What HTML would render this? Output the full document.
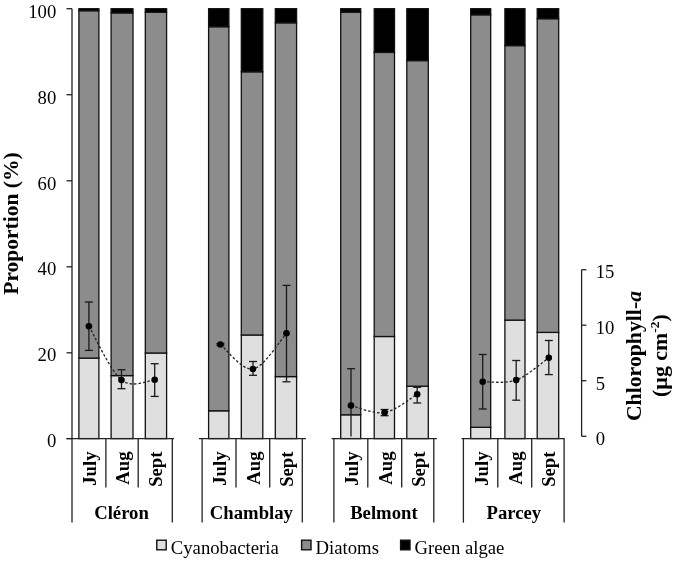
<!DOCTYPE html><html><head><meta charset="utf-8"><style>html,body{margin:0;padding:0;background:#fff;}svg{display:block;will-change:transform;}text{font-family:"Liberation Serif",serif;fill:#000;}</style></head><body>
<svg width="675" height="561" viewBox="0 0 675 561">
<rect x="78.9" y="358.1" width="20.00" height="80.50" fill="#dfdfdf" stroke="#111" stroke-width="1.3"/>
<rect x="78.9" y="10.700000000000001" width="20.00" height="347.40" fill="#8c8c8c" stroke="#111" stroke-width="1.3"/>
<rect x="78.9" y="8.7" width="20.00" height="2.00" fill="#000" stroke="#111" stroke-width="1.3"/>
<rect x="111.1" y="375.6" width="21.90" height="63.00" fill="#dfdfdf" stroke="#111" stroke-width="1.3"/>
<rect x="111.1" y="12.9" width="21.90" height="362.70" fill="#8c8c8c" stroke="#111" stroke-width="1.3"/>
<rect x="111.1" y="8.7" width="21.90" height="4.20" fill="#000" stroke="#111" stroke-width="1.3"/>
<rect x="145.3" y="353" width="21.30" height="85.60" fill="#dfdfdf" stroke="#111" stroke-width="1.3"/>
<rect x="145.3" y="12.200000000000001" width="21.30" height="340.80" fill="#8c8c8c" stroke="#111" stroke-width="1.3"/>
<rect x="145.3" y="8.7" width="21.30" height="3.50" fill="#000" stroke="#111" stroke-width="1.3"/>
<rect x="208.6" y="410.8" width="20.30" height="27.80" fill="#dfdfdf" stroke="#111" stroke-width="1.3"/>
<rect x="208.6" y="26.7" width="20.30" height="384.10" fill="#8c8c8c" stroke="#111" stroke-width="1.3"/>
<rect x="208.6" y="8.7" width="20.30" height="18.00" fill="#000" stroke="#111" stroke-width="1.3"/>
<rect x="241.3" y="335" width="21.50" height="103.60" fill="#dfdfdf" stroke="#111" stroke-width="1.3"/>
<rect x="241.3" y="71.8" width="21.50" height="263.20" fill="#8c8c8c" stroke="#111" stroke-width="1.3"/>
<rect x="241.3" y="8.7" width="21.50" height="63.10" fill="#000" stroke="#111" stroke-width="1.3"/>
<rect x="275.3" y="376.6" width="21.30" height="62.00" fill="#dfdfdf" stroke="#111" stroke-width="1.3"/>
<rect x="275.3" y="22.8" width="21.30" height="353.80" fill="#8c8c8c" stroke="#111" stroke-width="1.3"/>
<rect x="275.3" y="8.7" width="21.30" height="14.10" fill="#000" stroke="#111" stroke-width="1.3"/>
<rect x="340.7" y="414.8" width="20.00" height="23.80" fill="#dfdfdf" stroke="#111" stroke-width="1.3"/>
<rect x="340.7" y="12.100000000000001" width="20.00" height="402.70" fill="#8c8c8c" stroke="#111" stroke-width="1.3"/>
<rect x="340.7" y="8.7" width="20.00" height="3.40" fill="#000" stroke="#111" stroke-width="1.3"/>
<rect x="374.2" y="336.5" width="20.30" height="102.10" fill="#dfdfdf" stroke="#111" stroke-width="1.3"/>
<rect x="374.2" y="52.4" width="20.30" height="284.10" fill="#8c8c8c" stroke="#111" stroke-width="1.3"/>
<rect x="374.2" y="8.7" width="20.30" height="43.70" fill="#000" stroke="#111" stroke-width="1.3"/>
<rect x="406.8" y="386.2" width="21.50" height="52.40" fill="#dfdfdf" stroke="#111" stroke-width="1.3"/>
<rect x="406.8" y="60.599999999999994" width="21.50" height="325.60" fill="#8c8c8c" stroke="#111" stroke-width="1.3"/>
<rect x="406.8" y="8.7" width="21.50" height="51.90" fill="#000" stroke="#111" stroke-width="1.3"/>
<rect x="470.7" y="427.3" width="20.00" height="11.30" fill="#dfdfdf" stroke="#111" stroke-width="1.3"/>
<rect x="470.7" y="14.8" width="20.00" height="412.50" fill="#8c8c8c" stroke="#111" stroke-width="1.3"/>
<rect x="470.7" y="8.7" width="20.00" height="6.10" fill="#000" stroke="#111" stroke-width="1.3"/>
<rect x="504.9" y="320.1" width="20.10" height="118.50" fill="#dfdfdf" stroke="#111" stroke-width="1.3"/>
<rect x="504.9" y="45.599999999999994" width="20.10" height="274.50" fill="#8c8c8c" stroke="#111" stroke-width="1.3"/>
<rect x="504.9" y="8.7" width="20.10" height="36.90" fill="#000" stroke="#111" stroke-width="1.3"/>
<rect x="537.2" y="332.4" width="21.50" height="106.20" fill="#dfdfdf" stroke="#111" stroke-width="1.3"/>
<rect x="537.2" y="18.7" width="21.50" height="313.70" fill="#8c8c8c" stroke="#111" stroke-width="1.3"/>
<rect x="537.2" y="8.7" width="21.50" height="10.00" fill="#000" stroke="#111" stroke-width="1.3"/>
<g stroke="#222" stroke-width="1.3" fill="none">
<line x1="72" y1="8.7" x2="72" y2="522.6"/>
<line x1="66.5" y1="8.7" x2="72" y2="8.7"/>
<line x1="66.5" y1="94.7" x2="72" y2="94.7"/>
<line x1="66.5" y1="180.8" x2="72" y2="180.8"/>
<line x1="66.5" y1="266.8" x2="72" y2="266.8"/>
<line x1="66.5" y1="352.8" x2="72" y2="352.8"/>
<line x1="66.5" y1="438.6" x2="72" y2="438.6"/>
<line x1="66.5" y1="438.6" x2="174" y2="438.6"/>
<line x1="105.9" y1="438.6" x2="105.9" y2="487.4"/>
<line x1="138.2" y1="438.6" x2="138.2" y2="487.4"/>
<line x1="172.3" y1="438.6" x2="172.3" y2="522.6"/>
<line x1="198.9" y1="438.6" x2="305.9" y2="438.6"/>
<line x1="202.1" y1="438.6" x2="202.1" y2="522.6"/>
<line x1="236" y1="438.6" x2="236" y2="487.4"/>
<line x1="269.7" y1="438.6" x2="269.7" y2="487.4"/>
<line x1="302.3" y1="438.6" x2="302.3" y2="522.6"/>
<line x1="331.6" y1="438.6" x2="436.8" y2="438.6"/>
<line x1="333.9" y1="438.6" x2="333.9" y2="522.6"/>
<line x1="367.8" y1="438.6" x2="367.8" y2="487.4"/>
<line x1="401.7" y1="438.6" x2="401.7" y2="487.4"/>
<line x1="433.8" y1="438.6" x2="433.8" y2="522.6"/>
<line x1="461.6" y1="438.6" x2="564.6" y2="438.6"/>
<line x1="463.4" y1="438.6" x2="463.4" y2="522.6"/>
<line x1="497.8" y1="438.6" x2="497.8" y2="487.4"/>
<line x1="531.7" y1="438.6" x2="531.7" y2="487.4"/>
<line x1="564.1" y1="438.6" x2="564.1" y2="522.6"/>
<line x1="581.6" y1="269.7" x2="581.6" y2="436.3"/>
<line x1="581.6" y1="269.7" x2="586.4" y2="269.7"/>
<line x1="581.6" y1="325.2" x2="586.4" y2="325.2"/>
<line x1="581.6" y1="380.7" x2="586.4" y2="380.7"/>
<line x1="581.6" y1="436.3" x2="586.4" y2="436.3"/>
</g>
<g stroke="#1a1a1a" stroke-width="1.3" fill="none">
<line x1="88.9" y1="302" x2="88.9" y2="350.4"/>
<line x1="84.9" y1="302" x2="92.9" y2="302"/>
<line x1="84.9" y1="350.4" x2="92.9" y2="350.4"/>
<line x1="121.5" y1="369.7" x2="121.5" y2="388.7"/>
<line x1="117.5" y1="369.7" x2="125.5" y2="369.7"/>
<line x1="117.5" y1="388.7" x2="125.5" y2="388.7"/>
<line x1="154.7" y1="363.7" x2="154.7" y2="396.4"/>
<line x1="150.7" y1="363.7" x2="158.7" y2="363.7"/>
<line x1="150.7" y1="396.4" x2="158.7" y2="396.4"/>
<line x1="220.4" y1="343.6" x2="220.4" y2="345.4"/>
<line x1="216.4" y1="343.6" x2="224.4" y2="343.6"/>
<line x1="216.4" y1="345.4" x2="224.4" y2="345.4"/>
<line x1="253" y1="361.5" x2="253" y2="375.3"/>
<line x1="249" y1="361.5" x2="257" y2="361.5"/>
<line x1="249" y1="375.3" x2="257" y2="375.3"/>
<line x1="286.5" y1="285.4" x2="286.5" y2="381.8"/>
<line x1="282.5" y1="285.4" x2="290.5" y2="285.4"/>
<line x1="282.5" y1="381.8" x2="290.5" y2="381.8"/>
<line x1="351" y1="368.7" x2="351" y2="436.5"/>
<line x1="347" y1="368.7" x2="355" y2="368.7"/>
<line x1="384.6" y1="409.5" x2="384.6" y2="415.7"/>
<line x1="380.6" y1="409.5" x2="388.6" y2="409.5"/>
<line x1="380.6" y1="415.7" x2="388.6" y2="415.7"/>
<line x1="417.2" y1="387.3" x2="417.2" y2="403"/>
<line x1="413.2" y1="387.3" x2="421.2" y2="387.3"/>
<line x1="413.2" y1="403" x2="421.2" y2="403"/>
<line x1="482.7" y1="354.5" x2="482.7" y2="409"/>
<line x1="478.7" y1="354.5" x2="486.7" y2="354.5"/>
<line x1="478.7" y1="409" x2="486.7" y2="409"/>
<line x1="516.2" y1="360.5" x2="516.2" y2="400.2"/>
<line x1="512.2" y1="360.5" x2="520.2" y2="360.5"/>
<line x1="512.2" y1="400.2" x2="520.2" y2="400.2"/>
<line x1="548.8" y1="340.5" x2="548.8" y2="374.6"/>
<line x1="544.8" y1="340.5" x2="552.8" y2="340.5"/>
<line x1="544.8" y1="374.6" x2="552.8" y2="374.6"/>
</g>
<path d="M88.9,326.3 C94.33,335.27 110.53,371.18 121.5,380.1 C132.47,389.02 149.17,379.85 154.7,379.8" fill="none" stroke="#222" stroke-width="1.3" stroke-dasharray="2.5 2"/>
<path d="M220.4,344.5 C225.83,348.58 241.98,370.87 253,369 C264.02,367.13 280.92,339.25 286.5,333.3" fill="none" stroke="#222" stroke-width="1.3" stroke-dasharray="2.5 2"/>
<path d="M351,405.5 C356.60,406.68 373.57,414.47 384.6,412.6 C395.63,410.73 411.77,397.35 417.2,394.3" fill="none" stroke="#222" stroke-width="1.3" stroke-dasharray="2.5 2"/>
<path d="M482.7,381.7 C488.28,381.43 505.18,384.10 516.2,380.1 C527.22,376.10 543.37,361.43 548.8,357.7" fill="none" stroke="#222" stroke-width="1.3" stroke-dasharray="2.5 2"/>
<circle cx="88.9" cy="326.3" r="3.3" fill="#000"/>
<circle cx="121.5" cy="380.1" r="3.3" fill="#000"/>
<circle cx="154.7" cy="379.8" r="3.3" fill="#000"/>
<circle cx="220.4" cy="344.5" r="3.3" fill="#000"/>
<circle cx="253" cy="369" r="3.3" fill="#000"/>
<circle cx="286.5" cy="333.3" r="3.3" fill="#000"/>
<circle cx="351" cy="405.5" r="3.3" fill="#000"/>
<circle cx="384.6" cy="412.6" r="3.3" fill="#000"/>
<circle cx="417.2" cy="394.3" r="3.3" fill="#000"/>
<circle cx="482.7" cy="381.7" r="3.3" fill="#000"/>
<circle cx="516.2" cy="380.1" r="3.3" fill="#000"/>
<circle cx="548.8" cy="357.7" r="3.3" fill="#000"/>
<text x="56.3" y="17.599999999999998" font-size="18.7" text-anchor="end">100</text>
<text x="56.3" y="103.60000000000001" font-size="18.7" text-anchor="end">80</text>
<text x="56.3" y="190.0" font-size="18.7" text-anchor="end">60</text>
<text x="56.3" y="275.0" font-size="18.7" text-anchor="end">40</text>
<text x="56.3" y="361.0" font-size="18.7" text-anchor="end">20</text>
<text x="56.3" y="446.9" font-size="18.7" text-anchor="end">0</text>
<text x="595.7" y="278.29999999999995" font-size="18.7">15</text>
<text x="595.7" y="334.09999999999997" font-size="18.7">10</text>
<text x="595.7" y="389.59999999999997" font-size="18.7">5</text>
<text x="595.7" y="445.2" font-size="18.7">0</text>
<text transform="translate(18.2,294.4) rotate(-90)" font-size="21.5" font-weight="bold" x="-0.3">Proportion (%)</text>
<text transform="translate(641.3,420.1) rotate(-90)" font-size="21.75" font-weight="bold" x="-1">Chlorophyll-<tspan font-style="italic">a</tspan></text>
<text transform="translate(666.6,396) rotate(-90)" font-size="21.9" font-weight="bold" x="-1">(µg cm<tspan font-size="13.5" dy="-7.5">-2</tspan><tspan dy="7.5">)</tspan></text>
<text transform="translate(96.0,451.5) rotate(-90)" font-size="18.7" font-weight="bold" text-anchor="end">July</text>
<text transform="translate(129.1,451.5) rotate(-90)" font-size="18.7" font-weight="bold" text-anchor="end">Aug</text>
<text transform="translate(162.2,451.5) rotate(-90)" font-size="18.7" font-weight="bold" text-anchor="end">Sept</text>
<text transform="translate(226.1,451.5) rotate(-90)" font-size="18.7" font-weight="bold" text-anchor="end">July</text>
<text transform="translate(259.9,451.5) rotate(-90)" font-size="18.7" font-weight="bold" text-anchor="end">Aug</text>
<text transform="translate(293.0,451.5) rotate(-90)" font-size="18.7" font-weight="bold" text-anchor="end">Sept</text>
<text transform="translate(357.9,451.5) rotate(-90)" font-size="18.7" font-weight="bold" text-anchor="end">July</text>
<text transform="translate(391.8,451.5) rotate(-90)" font-size="18.7" font-weight="bold" text-anchor="end">Aug</text>
<text transform="translate(424.8,451.5) rotate(-90)" font-size="18.7" font-weight="bold" text-anchor="end">Sept</text>
<text transform="translate(487.6,451.5) rotate(-90)" font-size="18.7" font-weight="bold" text-anchor="end">July</text>
<text transform="translate(521.8,451.5) rotate(-90)" font-size="18.7" font-weight="bold" text-anchor="end">Aug</text>
<text transform="translate(554.9,451.5) rotate(-90)" font-size="18.7" font-weight="bold" text-anchor="end">Sept</text>
<text x="121.5" y="518.8" font-size="18.7" font-weight="bold" text-anchor="middle">Cléron</text>
<text x="251.4" y="518.8" font-size="18.7" font-weight="bold" text-anchor="middle">Chamblay</text>
<text x="383.9" y="518.8" font-size="18.7" font-weight="bold" text-anchor="middle">Belmont</text>
<text x="513.8" y="518.8" font-size="18.7" font-weight="bold" text-anchor="middle">Parcey</text>
<rect x="156.8" y="540.2" width="9.4" height="9.6" fill="#dfdfdf" stroke="#111" stroke-width="1.4"/>
<text x="170.8" y="553.8" font-size="18.7">Cyanobacteria</text>
<rect x="301.6" y="540.2" width="9.4" height="9.6" fill="#8c8c8c" stroke="#111" stroke-width="1.4"/>
<text x="315.6" y="553.8" font-size="18.7">Diatoms</text>
<rect x="400.6" y="540.2" width="9.4" height="9.6" fill="#000" stroke="#111" stroke-width="1.4"/>
<text x="414.6" y="553.8" font-size="18.7">Green algae</text>
</svg></body></html>
